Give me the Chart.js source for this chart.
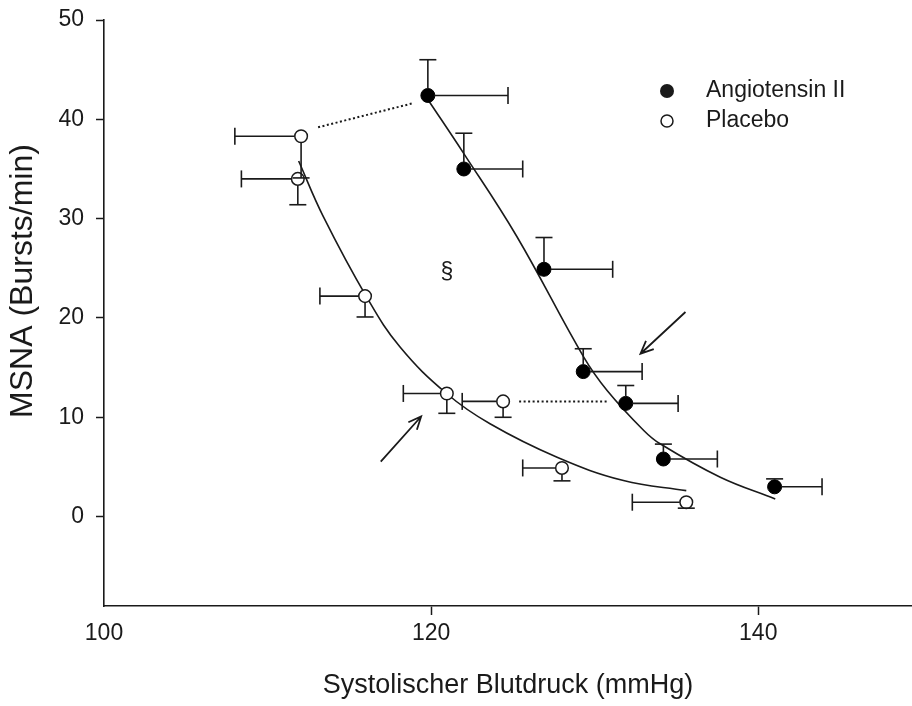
<!DOCTYPE html>
<html lang="de">
<head>
<meta charset="UTF-8">
<title>MSNA vs. systolischer Blutdruck</title>
<style>
  html, body { margin: 0; padding: 0; background: #fff; }
  #chart { display: block; }
</style>
<script src="https://cdn.jsdelivr.net/npm/chart.js"></script>
</head>
<body>
<canvas id="chart" width="912" height="706"></canvas>
<script>
// tick labels
const xTicks = [100, 120, 140];
const yTicks = [0, 10, 20, 30, 40, 50];

// Angiotensin II: mean SBP / MSNA, end of SEM bar upwards (MSNA) and to the right (SBP)
const angSbp      = [119.8, 122.0, 126.9, 129.3, 131.9, 134.2, 141.0];
const angMsna     = [42.4, 35.0, 24.9, 14.6, 11.4, 5.8, 3.0];
const angMsnaUp   = [46.0, 38.6, 28.1, 16.9, 13.2, 7.3, 3.8];
const angSbpRight = [124.7, 125.6, 131.1, 132.9, 135.1, 137.5, 143.9];

// Placebo: SEM bars go downwards and to the left
const plaSbp      = [112.05, 111.85, 115.96, 120.96, 124.4, 128.0, 135.6];
const plaMsna     = [38.3, 34.0, 22.2, 12.4, 11.6, 4.9, 1.45];
const plaMsnaDown = [34.1, 31.4, 20.1, 10.4, 10.0, 3.6, 0.85];
const plaSbpLeft  = [108.0, 108.4, 113.2, 118.3, 121.9, 125.6, 132.3];

// fitted curves
const angFitSbp  = [119.84, 121.98, 125.24, 129.33, 130.76, 133.0, 134.0, 137.68, 141.04];
const angFitMsna = [41.9, 36.6, 28.2, 16.06, 12.7, 8.67, 7.33, 3.96, 1.78];
const plaFitSbp  = [111.9, 113.41, 116.06, 118.1, 120.96, 123.6, 127.7, 131.76, 135.6];
const plaFitMsna = [35.8, 30.2, 22.1, 17.07, 12.37, 9.35, 5.98, 3.63, 2.62];

// dotted connectors between the two curves
const dotTopSbp  = [113.09, 118.84];
const dotTopMsna = [39.2, 41.6];
const dotLowSbp  = [125.38, 130.74];
const dotLowMsna = [11.6, 11.6];

// arrows (tail -> head) and the section mark
const arrowSbp  = [[116.92, 119.39], [135.55, 132.8]];
const arrowMsna = [[5.54, 10.08], [20.6, 16.4]];
const markSbp = 120.96, markMsna = 24.6;

const ink = '#1a1a1a';
const fontFamily = '"Liberation Sans", Arial, sans-serif';

const pts = (xs, ys) => xs.map((v, i) => ({x: v, y: ys[i]}));

const overlay = {
    id: 'overlay',
    afterDatasetsDraw(chart) {
        const {ctx, scales: {x, y}} = chart;
        const cap = 8.5;
        const seg = (x1, y1, x2, y2) => {
            ctx.beginPath(); ctx.moveTo(x1, y1); ctx.lineTo(x2, y2); ctx.stroke();
        };
        ctx.save();
        ctx.strokeStyle = ink;
        ctx.lineWidth = 1.6;
        angSbp.forEach((v, i) => {
            const px = x.getPixelForValue(v), py = y.getPixelForValue(angMsna[i]);
            const ty = y.getPixelForValue(angMsnaUp[i]);
            const tx = x.getPixelForValue(angSbpRight[i]);
            seg(px, py - 7, px, ty); seg(px - cap, ty, px + cap, ty);
            seg(px + 7, py, tx, py); seg(tx, py - cap, tx, py + cap);
        });
        plaSbp.forEach((v, i) => {
            const px = x.getPixelForValue(v), py = y.getPixelForValue(plaMsna[i]);
            const ty = y.getPixelForValue(plaMsnaDown[i]);
            const tx = x.getPixelForValue(plaSbpLeft[i]);
            seg(px, py + 6.5, px, ty); seg(px - cap, ty, px + cap, ty);
            seg(px - 6.5, py, tx, py); seg(tx, py - cap, tx, py + cap);
        });
        ctx.restore();
    },
    afterDraw(chart) {
        const {ctx, chartArea: ca, scales: {x, y}} = chart;
        ctx.save();
        ctx.strokeStyle = ink;
        ctx.fillStyle = ink;
        ctx.lineWidth = 1.8;

        // arrows
        arrowSbp.forEach((xs, i) => {
            const x1 = x.getPixelForValue(xs[0]), y1 = y.getPixelForValue(arrowMsna[i][0]);
            const x2 = x.getPixelForValue(xs[1]), y2 = y.getPixelForValue(arrowMsna[i][1]);
            const a = Math.atan2(y2 - y1, x2 - x1), len = 14, spread = 0.42;
            ctx.beginPath();
            ctx.moveTo(x1, y1); ctx.lineTo(x2, y2);
            ctx.moveTo(x2 - len * Math.cos(a - spread), y2 - len * Math.sin(a - spread));
            ctx.lineTo(x2, y2);
            ctx.lineTo(x2 - len * Math.cos(a + spread), y2 - len * Math.sin(a + spread));
            ctx.stroke();
        });

        // section mark
        ctx.font = '23px ' + fontFamily;
        ctx.textAlign = 'center';
        ctx.textBaseline = 'middle';
        ctx.fillText('§', x.getPixelForValue(markSbp), y.getPixelForValue(markMsna));

        // legend
        const lx = ca.left + 563, ly = ca.top + 71;
        ctx.beginPath(); ctx.arc(lx, ly, 7, 0, Math.PI * 2); ctx.fill();
        ctx.beginPath(); ctx.arc(lx, ly + 30, 6, 0, Math.PI * 2);
        ctx.fillStyle = '#fff'; ctx.fill();
        ctx.lineWidth = 1.5; ctx.stroke();
        ctx.fillStyle = ink;
        ctx.textAlign = 'left';
        ctx.font = '23px ' + fontFamily;
        ctx.fillText('Angiotensin II', lx + 39, ly);
        ctx.fillText('Placebo', lx + 39, ly + 30);

        // y axis title
        ctx.translate(23, ca.top + 261);
        ctx.rotate(-Math.PI / 2);
        ctx.textAlign = 'center';
        ctx.font = '32px ' + fontFamily;
        ctx.fillText('MSNA (Bursts/min)', 0, 0);
        ctx.restore();
    }
};

const curve = (data) => ({
    type: 'line', data, order: 3, borderColor: ink, borderWidth: 1.6,
    pointRadius: 0, tension: 0.4, fill: false
});
const dotted = (data) => ({
    type: 'line', data, order: 3, borderColor: ink, borderWidth: 2,
    borderDash: [2, 2.5], pointRadius: 0, fill: false
});

new Chart(document.getElementById('chart'), {
    type: 'scatter',
    data: {
        datasets: [
            {
                label: 'Angiotensin II', data: pts(angSbp, angMsna), order: 1,
                pointRadius: 7, pointBackgroundColor: '#000', pointBorderColor: '#000', pointBorderWidth: 1
            },
            {
                label: 'Placebo', data: pts(plaSbp, plaMsna), order: 1,
                pointRadius: 6.3, pointBackgroundColor: '#fff', pointBorderColor: ink, pointBorderWidth: 1.5
            },
            curve(pts(angFitSbp, angFitMsna)),
            curve(pts(plaFitSbp, plaFitMsna)),
            dotted(pts(dotTopSbp, dotTopMsna)),
            dotted(pts(dotLowSbp, dotLowMsna))
        ]
    },
    options: {
        responsive: false,
        animation: false,
        events: [],
        layout: { autoPadding: false, padding: { top: 20, right: 0, left: 0, bottom: 0 } },
        plugins: { legend: { display: false }, tooltip: { enabled: false } },
        scales: {
            x: {
                type: 'linear', min: 100, max: 149.4,
                afterBuildTicks: (s) => { s.ticks = xTicks.map(v => ({value: v})); },
                afterFit: (s) => { s.height = 100; s.paddingLeft = 0; s.paddingRight = 0; },
                border: { display: true, color: ink, width: 1.6 },
                grid: {
                    drawOnChartArea: false, drawTicks: true, tickLength: 9, tickWidth: 1.5,
                    tickColor: (c) => c.tick && c.tick.value === 100 ? 'rgba(0,0,0,0)' : ink
                },
                ticks: { color: ink, padding: 5, maxRotation: 0, font: { family: fontFamily, size: 23 } },
                title: {
                    display: true, text: 'Systolischer Blutdruck (mmHg)', color: ink,
                    padding: { top: 0, bottom: 4 }, font: { family: fontFamily, size: 27 }
                }
            },
            y: {
                type: 'linear', min: -9, max: 50,
                afterBuildTicks: (s) => { s.ticks = yTicks.map(v => ({value: v})); },
                afterFit: (s) => { s.width = 104; s.paddingTop = 0; s.paddingBottom = 0; },
                border: { display: true, color: ink, width: 1.6 },
                grid: { drawOnChartArea: false, drawTicks: true, tickLength: 8, tickWidth: 1.5, tickColor: ink },
                ticks: { color: ink, padding: 12, font: { family: fontFamily, size: 23 } }
            }
        }
    },
    plugins: [overlay]
});
</script>
</body>
</html>
